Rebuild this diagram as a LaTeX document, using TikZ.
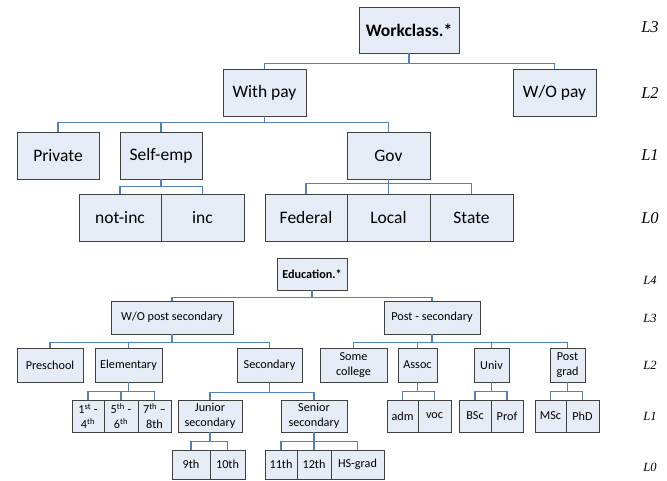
\documentclass[tikz,border=0pt]{standalone}
\usepackage{fontspec}
\setmainfont{Carlito}
\newfontfamily\lvlfont{Liberation Serif}
\definecolor{boxfill}{HTML}{E6ECF6}
\definecolor{boxline}{HTML}{404040}
\definecolor{connblue}{HTML}{4F81BD}
\tikzset{
  box/.style={draw=boxline, fill=boxfill, line width=0.9pt, inner sep=0pt, align=center},
  bigbox/.style={box, font=\fontsize{17.5}{20}\selectfont, minimum height=47pt},
  smallbox/.style={box, font=\fontsize{12.2}{15}\selectfont},
  conn/.style={draw=connblue, line width=1.8pt},
  lvlbig/.style={font=\lvlfont\itshape\fontsize{16.5}{19}\selectfont},
  lvlsmall/.style={font=\lvlfont\itshape\fontsize{12.5}{14}\selectfont},
}
\begin{document}
\begin{tikzpicture}[x=1pt,y=-1pt]
\useasboundingbox (0,0) rectangle (667,481);
% ---------- Workclass tree ----------
\node[bigbox, minimum width=100pt, minimum height=46pt, font=\bfseries\fontsize{17.5}{20}\selectfont] (wc) at (409,30) {Workclass.*};
\node[bigbox, minimum width=83pt] (withpay) at (264.5,92.5) {With pay};
\node[bigbox, minimum width=83pt] (wopay) at (554.5,92.5) {W/O pay};
\node[bigbox, minimum width=82pt] (private) at (58,155.5) {Private};
\node[bigbox, minimum width=82pt] (selfemp) at (161,155.5) {Self-emp};
\node[bigbox, minimum width=83pt] (gov) at (388.5,155.5) {Gov};
\node[bigbox, minimum width=82pt] (notinc) at (120,217.5) {not-inc};
\node[bigbox, minimum width=83pt] (inc) at (202.5,217.5) {inc};
\node[bigbox, minimum width=82pt] (federal) at (306,217.5) {Federal};
\node[bigbox, minimum width=83pt] (local) at (388.5,217.5) {Local};
\node[bigbox, minimum width=83pt] (state) at (471.5,217.5) {State};

\foreach \c in {withpay,wopay} \draw[conn] (wc.south) -- ++(0,10) -| (\c.north);
\foreach \c in {private,selfemp,gov} \draw[conn] (withpay.south) -- ++(0,6) -| (\c.north);
\foreach \c in {notinc,inc} \draw[conn] (selfemp.south) -- ++(0,7) -| (\c.north);
\foreach \c in {federal,local,state} \draw[conn] (gov.south) -- ++(0,4) -| (\c.north);

\node[lvlbig] (wl3) at (650,27) {L3};
\node[lvlbig] (wl2) at (650,93) {L2};
\node[lvlbig] (wl1) at (650,155) {L1};
\node[lvlbig] (wl0) at (650,218) {L0};

% ---------- Education tree ----------
\node[smallbox, minimum width=70pt, minimum height=32pt, font=\bfseries\fontsize{12.2}{15}\selectfont] (edu) at (312,274) {Education.*};
\node[smallbox, minimum width=122pt, minimum height=33pt] (wops) at (172,317.5) {W/O post secondary};
\node[smallbox, minimum width=96pt, minimum height=33pt] (posts) at (432,317.5) {Post - secondary};

\node[smallbox, minimum width=66pt, minimum height=34pt] (preschool) at (50,365) {Preschool};
\node[smallbox, minimum width=67pt, minimum height=34pt] (elementary) at (128.5,365) {Elementary};
\node[smallbox, minimum width=65pt, minimum height=34pt] (secondary) at (269.5,365) {Secondary};
\node[smallbox, minimum width=67pt, minimum height=34pt] (somecollege) at (353.5,365) {Some\\college};
\node[smallbox, minimum width=39pt, minimum height=34pt] (assoc) at (417.5,365) {Assoc};
\node[smallbox, minimum width=35pt, minimum height=34pt] (univ) at (491.5,365) {Univ};
\node[smallbox, minimum width=35pt, minimum height=34pt] (postgrad) at (567.5,365) {Post\\grad};

\node[smallbox, minimum width=32pt, minimum height=32pt] (g14) at (88,416) {1\textsuperscript{st} -\\4\textsuperscript{th}};
\node[smallbox, minimum width=34pt, minimum height=32pt] (g56) at (121,416) {5\textsuperscript{th} -\\6\textsuperscript{th}};
\node[smallbox, minimum width=33pt, minimum height=32pt] (g78) at (154.5,416) {7\textsuperscript{th} --\\8th};
\node[smallbox, minimum width=64pt, minimum height=32pt] (junior) at (210,416) {Junior\\secondary};
\node[smallbox, minimum width=66pt, minimum height=32pt] (senior) at (314,416) {Senior\\secondary};
\node[smallbox, minimum width=31pt, minimum height=32pt] (adm) at (402.5,416) {adm};
\node[smallbox, minimum width=33pt, minimum height=32pt] (voc) at (434.5,416) {voc};
\node[smallbox, minimum width=32pt, minimum height=32pt] (bsc) at (475,416) {BSc};
\node[smallbox, minimum width=32pt, minimum height=32pt] (prof) at (507,416) {Prof};
\node[smallbox, minimum width=31pt, minimum height=32pt] (msc) at (550.5,416) {MSc};
\node[smallbox, minimum width=33pt, minimum height=32pt] (phd) at (582.5,416) {PhD};

\node[smallbox, minimum width=38pt, minimum height=29pt] (g9) at (191,464.5) {9th};
\node[smallbox, minimum width=35pt, minimum height=29pt] (g10) at (227.5,464.5) {10th};
\node[smallbox, minimum width=32pt, minimum height=29pt] (g11) at (281,464.5) {11th};
\node[smallbox, minimum width=34pt, minimum height=29pt] (g12) at (314,464.5) {12th};
\node[smallbox, minimum width=53pt, minimum height=29pt] (hsgrad) at (357.5,464.5) {HS-grad};

\foreach \c in {wops,posts} \draw[conn] (edu.south) -- ++(0,7) -| (\c.north);
\foreach \c in {preschool,elementary,secondary} \draw[conn] (wops.south) -- ++(0,8) -| (\c.north);
\foreach \c in {somecollege,assoc,univ,postgrad} \draw[conn] (posts.south) -- ++(0,8) -| (\c.north);
\foreach \c in {g14,g56,g78} \draw[conn] (elementary.south) -- ++(0,9) -| (\c.north);
\foreach \c in {junior,senior} \draw[conn] (secondary.south) -- ++(0,10) -| (\c.north);
\foreach \c in {adm,voc} \draw[conn] (assoc.south) -- ++(0,9) -| (\c.north);
\foreach \c in {bsc,prof} \draw[conn] (univ.south) -- ++(0,9) -| (\c.north);
\foreach \c in {msc,phd} \draw[conn] (postgrad.south) -- ++(0,9) -| (\c.north);
\foreach \c in {g9,g10} \draw[conn] (junior.south) -- ++(0,9) -| (\c.north);
\foreach \c in {g11,g12,hsgrad} \draw[conn] (senior.south) -- ++(0,9) -| (\c.north);

\node[lvlsmall] (el4) at (650,280) {L4};
\node[lvlsmall] (el3) at (650,318) {L3};
\node[lvlsmall] (el2) at (650,365) {L2};
\node[lvlsmall] (el1) at (650,416) {L1};
\node[lvlsmall] (el0) at (650,467) {L0};
\end{tikzpicture}
\end{document}
